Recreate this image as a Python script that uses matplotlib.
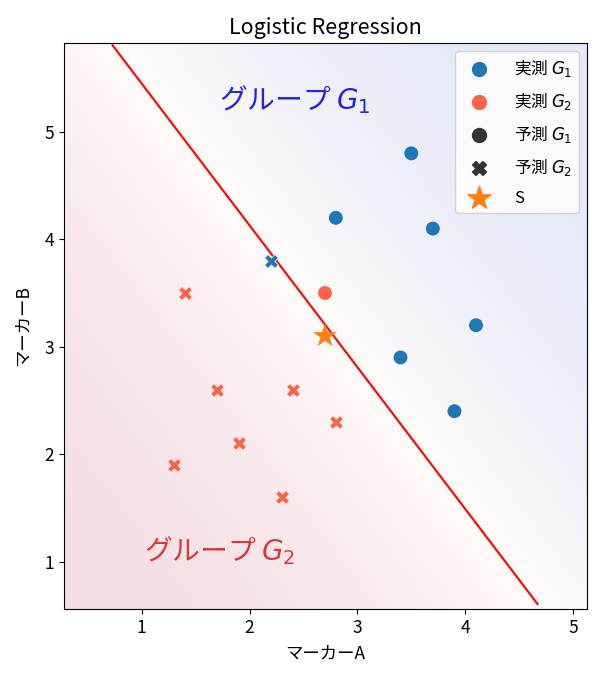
import numpy as np
import matplotlib
matplotlib.use('Agg')
import matplotlib.pyplot as plt
from matplotlib.colors import LinearSegmentedColormap

plt.rcParams['font.family'] = ['Noto Sans CJK JP', 'DejaVu Sans']
plt.rcParams['axes.unicode_minus'] = False

# 実測 G1 で予測 G1
g1_ok_x = [3.5, 2.8, 3.7, 4.1, 3.4, 3.9]
g1_ok_y = [4.8, 4.2, 4.1, 3.2, 2.9, 2.4]
# 実測 G1 で予測 G2
g1_ng_x = [2.2]
g1_ng_y = [3.8]
# 実測 G2 で予測 G1
g2_ng_x = [2.7]
g2_ng_y = [3.5]
# 実測 G2 で予測 G2
g2_ok_x = [1.4, 1.7, 2.4, 2.8, 1.9, 1.3, 2.3]
g2_ok_y = [3.5, 2.6, 2.6, 2.3, 2.1, 1.9, 1.6]
# 新しいサンプル S
s_x, s_y = 2.7, 3.1

# 決定境界 y = b0 + b1 * x
b0, b1 = 6.77, -1.32
line_x = np.array([0.73, 4.67])

xlim = (0.28, 5.13)
ylim = (0.56, 5.83)

c_blue = '#1f77b4'
c_red = '#ff6347'

fig, ax = plt.subplots(figsize=(6.04, 6.78), dpi=100)
plt.subplots_adjust(left=0.106, right=0.972, top=0.937, bottom=0.102)

# 背景のグラデーション（予測確率）
gx, gy = np.meshgrid(np.linspace(*xlim, 300), np.linspace(*ylim, 300))
dist = (gy - (b0 + b1 * gx)) / np.sqrt(1 + b1 ** 2)
prob = 1 / (1 + np.exp(-1.0 * dist))
cmap = LinearSegmentedColormap.from_list('bg', ['#f4dfe4', '#fffbf9', '#e4e8f8'])
ax.imshow(prob, extent=[*xlim, *ylim], origin='lower', cmap=cmap, aspect='auto', zorder=0)

ax.plot(line_x, b0 + b1 * line_x, color='#ee1111', lw=1.6, zorder=2)

ax.scatter(g1_ok_x, g1_ok_y, s=100, color=c_blue, marker='o', zorder=3, edgecolors='none')
ax.scatter(g1_ng_x, g1_ng_y, s=100, color=c_blue, marker='X', zorder=3, edgecolors='white', linewidths=0.5)
ax.scatter(g2_ng_x, g2_ng_y, s=100, color=c_red, marker='o', zorder=3, edgecolors='none')
ax.scatter(g2_ok_x, g2_ok_y, s=100, color=c_red, marker='X', zorder=3, edgecolors='white', linewidths=0.5)
ax.scatter([s_x], [s_y], s=330, color='#ff7f0e', marker='*', zorder=4, edgecolors='none')

ax.text(2.42, 5.30, 'グループ $G_1$', color='#2222e8', fontsize=20, ha='center', va='center')
ax.text(1.72, 1.10, 'グループ $G_2$', color='#d43a3a', fontsize=20, ha='center', va='center')

# 凡例
h = [
    ax.scatter([], [], s=100, color=c_blue, marker='o'),
    ax.scatter([], [], s=100, color=c_red, marker='o'),
    ax.scatter([], [], s=100, color='#333333', marker='o'),
    ax.scatter([], [], s=100, color='#333333', marker='X'),
    ax.scatter([], [], s=300, color='#ff7f0e', marker='*'),
]
labels = ['実測 $G_1$', '実測 $G_2$', '予測 $G_1$', '予測 $G_2$', 'S']
ax.legend(h, labels, loc='upper right', fontsize=12, framealpha=0.8,
          labelspacing=0.72, handletextpad=1.1)

ax.set_xlim(*xlim)
ax.set_ylim(*ylim)
ax.set_xticks([1, 2, 3, 4, 5])
ax.set_yticks([1, 2, 3, 4, 5])
ax.tick_params(labelsize=12.5)
ax.set_xlabel('マーカーA', fontsize=12.5, labelpad=6)
ax.set_ylabel('マーカーB', fontsize=12.5, labelpad=9)
ax.set_title('Logistic Regression', fontsize=15.5)

plt.savefig('out.png')
